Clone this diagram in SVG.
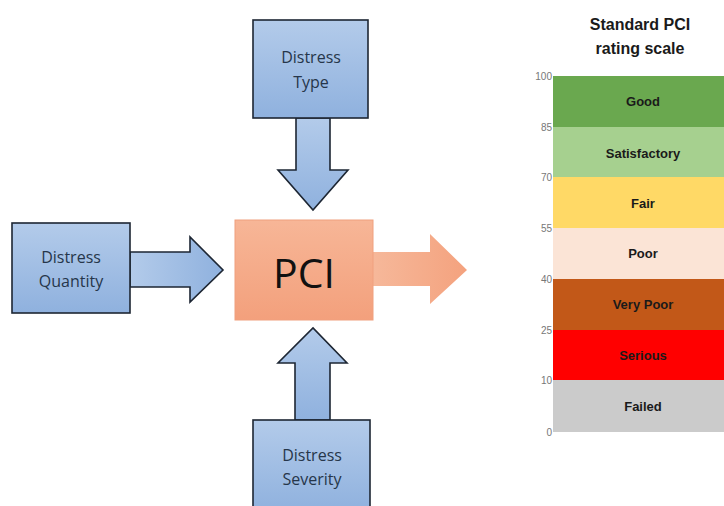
<svg xmlns="http://www.w3.org/2000/svg" width="724" height="506" viewBox="0 0 724 506">
<defs>
<linearGradient id="gBlue" x1="0" y1="0" x2="0" y2="1">
<stop offset="0" stop-color="#b3cbea"/><stop offset="1" stop-color="#8fb1de"/>
</linearGradient>
<linearGradient id="gBlueH" x1="0" y1="0" x2="1" y2="0">
<stop offset="0" stop-color="#b3cbea"/><stop offset="1" stop-color="#8fb1de"/>
</linearGradient>
<linearGradient id="gOrange" x1="0" y1="0" x2="0" y2="1">
<stop offset="0" stop-color="#f7b697"/><stop offset="1" stop-color="#f3a07c"/>
</linearGradient>
<linearGradient id="gOrangeH" x1="0" y1="0" x2="1" y2="0">
<stop offset="0" stop-color="#f6b89a"/><stop offset="1" stop-color="#f4a27e"/>
</linearGradient>
</defs>
<style>
.box{fill:url(#gBlue);stroke:#1d2633;stroke-width:1.6}
.arr{stroke:#1d2633;stroke-width:1.6;stroke-linejoin:miter}
.lbl{font-family:"Open Sans","Liberation Sans",sans-serif;font-size:16px;fill:#26364a;text-anchor:middle}
.band{font-family:"Liberation Sans",Arial,sans-serif;font-size:13px;font-weight:bold;text-anchor:middle;fill:#1a1a1a}
.tick{font-family:"Liberation Sans",Arial,sans-serif;font-size:10px;fill:#777;text-anchor:end}
.title{font-family:"Liberation Sans",Arial,sans-serif;font-size:16px;font-weight:bold;text-anchor:middle;fill:#1a1a1a}
</style>
<rect width="724" height="506" fill="#ffffff"/>
<g id="connectors">
<path class="arr" fill="url(#gBlue)" d="M296,118 L330,118 L330,170 L348,170 L313,210 L278,170 L296,170 Z"/>
<path class="arr" fill="url(#gBlueH)" d="M130,252 L190,252 L190,237 L223,270 L190,302 L190,287 L130,287 Z"/>
<path class="arr" fill="url(#gBlue)" d="M295,420 L295,363 L278,363 L313,328 L347,363 L330,363 L330,420 Z"/>
<path fill="url(#gOrangeH)" d="M373,252 L430,252 L430,234 L467,270 L430,304 L430,286 L373,286 Z"/>
</g>
<g id="distress-type">
<rect class="box" x="253" y="20" width="115" height="98"/>
<text class="lbl" x="311" y="63">Distress</text>
<text class="lbl" x="311" y="88">Type</text>
</g>
<g id="distress-quantity">
<rect class="box" x="12" y="223" width="118" height="90"/>
<text class="lbl" x="71" y="263">Distress</text>
<text class="lbl" x="71" y="287">Quantity</text>
</g>
<g id="distress-severity">
<rect class="box" x="253" y="420" width="117" height="92"/>
<text class="lbl" x="312" y="461">Distress</text>
<text class="lbl" x="312" y="485">Severity</text>
</g>
<g id="pci">
<rect x="235" y="220" width="138" height="100" fill="url(#gOrange)" stroke="#f0a07e" stroke-width="1"/>
<text x="304" y="288" font-family="'Open Sans','Liberation Sans',sans-serif" font-size="41" fill="#111" text-anchor="middle">PCI</text>
</g>
<g id="scale">
<text class="title" x="640" y="30">Standard PCI</text>
<text class="title" x="640" y="54">rating scale</text>
<rect x="553" y="76" width="171" height="51" fill="#6aa84f"/>
<rect x="553" y="127" width="171" height="50" fill="#a6d08f"/>
<rect x="553" y="177" width="171" height="51" fill="#ffd966"/>
<rect x="553" y="228" width="171" height="51" fill="#fbe4d6"/>
<rect x="553" y="279" width="171" height="51" fill="#c25818"/>
<rect x="553" y="330" width="171" height="50" fill="#ff0000"/>
<rect x="553" y="380" width="171" height="52" fill="#cbcbcb"/>
<text class="band" x="643" y="106">Good</text>
<text class="band" x="643" y="158">Satisfactory</text>
<text class="band" x="643" y="208">Fair</text>
<text class="band" x="643" y="258">Poor</text>
<text class="band" x="643" y="309">Very Poor</text>
<text class="band" x="643" y="360" fill="#7a0000">Serious</text>
<text class="band" x="643" y="411">Failed</text>
<text class="tick" x="552" y="80">100</text>
<text class="tick" x="552" y="131">85</text>
<text class="tick" x="552" y="181">70</text>
<text class="tick" x="552" y="232">55</text>
<text class="tick" x="552" y="283">40</text>
<text class="tick" x="552" y="334">25</text>
<text class="tick" x="552" y="384">10</text>
<text class="tick" x="552" y="436">0</text>
</g>
</svg>
